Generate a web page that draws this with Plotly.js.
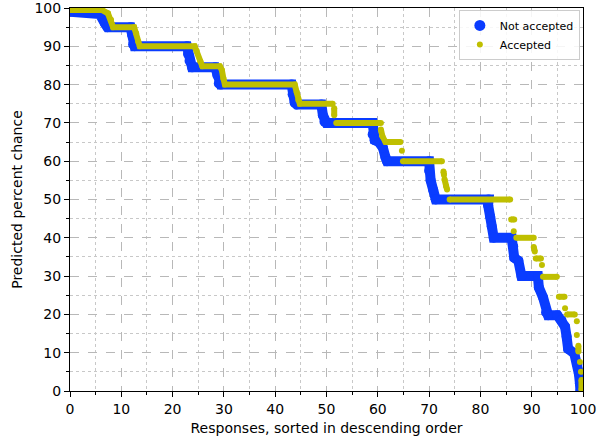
<!DOCTYPE html>
<html>
<head>
<meta charset="utf-8">
<script src="https://cdn.plot.ly/plotly-3.0.1.min.js"></script>
<style>
html,body{margin:0;padding:0;background:#fff;}
#chart{width:599px;height:439px;}
</style>
</head>
<body>
<div id="chart"></div>
<script>
// Not accepted (blue): sorted predicted percent chance vs. response percentile
var notAcceptedX = [0,5.2,5.8,6.8,7.3,11.8,12.1,12.3,12.6,22.8,23,23.3,23.8,28.3,28.7,29,29.4,43.2,43.4,43.8,44.2,49,49.3,49.6,50,59,59,59.4,60.2,61,61.5,61.8,70,70,70.3,70.8,71.3,81.6,81.5,81.9,82.2,82.6,86.1,86.4,86.6,87.4,88,91.2,91.4,92.2,92.8,93.2,95,95.8,96.5,96.8,97.1,98.3,98.9,99.2,99.4,99.5];
var notAcceptedY = [99,99,98.4,96,95,95,93,90.5,90,90,88,86.2,84.5,84.5,82.5,80.3,80,80,77.5,75.3,74.8,74.8,72,70.3,70,70,67,65.5,65,63.5,61,60,60,57.5,55,52.5,50,50,48.5,45.5,43,40,40,37.7,34.8,34,30,30,27,24.5,20.5,19.8,19.8,18.5,16.8,14.2,11,9.8,7,4.5,2,0];

// Accepted (yellow): null separates gaps between runs of points
var acceptedX = [0,6.2,7.4,8,8.4,12.5,12.9,13.3,13.6,24.3,24.7,25.4,25.8,29.2,29.6,29.9,30.2,43.8,44.2,44.5,44.8,51.2,null,
  51.5,51.5,null, 51.9,60.6,null, 60.6,60.9,61.5,64.4,null, 64.7,null, 64.9,72.5,null,
  72.8,72.9,null, 73,73.3,73.5,null, 74,85.8,null, 86,86.6,null, 86.5,null, 87,90.4,null,
  90.4,90.6,null, 90.8,91.8,null, 92,null, 92.2,94.9,null, 95.3,96.4,null, 96.5,null,
  96.9,98.4,null, 98.8,null, 98.8,null, 99.1,99.1,null, 99.4,null, 99.6,null, 99.7,99.7];
var acceptedY = [99.5,99.5,98.6,96.9,95,95,93.4,91.2,90,90,88.8,86,84.8,84.8,83.8,81.6,80,80,78,76,75,75,null,
  73.8,72,null, 70,70,null, 68.3,66.5,65,65,null, 62.7,null, 60,60,null,
  57.3,56.4,null, 55.3,53.5,52.6,null, 50,50,null, 44.8,44.8,null, 41.7,null, 40,40,null,
  37.6,36.4,null, 34.6,34.6,null, 32.9,null, 29.8,29.8,null, 24.6,24.6,null, 21.6,null,
  20,20,null, 18.2,null, 14.6,null, 11.8,10.3,null, 7.6,null, 5,null, 2.9,0.3];

var blue = '#0a3cff';
var yellow = '#bfbf00';

var traces = [
  {x: notAcceptedX, y: notAcceptedY, type: 'scatter', mode: 'lines+markers',
   line: {color: blue, width: 10}, marker: {color: blue, size: 10},
   showlegend: false, hoverinfo: 'skip', connectgaps: false},
  {x: acceptedX, y: acceptedY, type: 'scatter', mode: 'lines+markers',
   line: {color: yellow, width: 6}, marker: {color: yellow, size: 6},
   showlegend: false, hoverinfo: 'skip', connectgaps: false},
  {x: [null], y: [null], type: 'scatter', mode: 'markers', name: 'Not accepted',
   marker: {color: blue, size: 11}},
  {x: [null], y: [null], type: 'scatter', mode: 'markers', name: 'Accepted',
   marker: {color: yellow, size: 6}}
];

var axisCommon = {
  range: [0, 100], tick0: 0, dtick: 10, ticks: 'outside', ticklen: 5, tickwidth: 1, tickcolor: '#000',
  showline: true, linecolor: '#000', linewidth: 1, mirror: true, zeroline: false,
  showgrid: true, gridcolor: '#b8b8b8', griddash: 'dash', gridwidth: 1,
  ticklabeloverflow: 'allow',
  tickfont: {family: 'DejaVu Sans', size: 14, color: '#000'},
  minor: {dtick: 5, tick0: 0, ticks: 'outside', ticklen: 3, tickwidth: 1, tickcolor: '#000',
          showgrid: true, gridcolor: '#c8c8c8', griddash: 'dot', gridwidth: 1}
};

var layout = {
  width: 599, height: 439,
  margin: {l: 70, r: 16, t: 8, b: 48},
  paper_bgcolor: '#fff', plot_bgcolor: '#fff',
  font: {family: 'DejaVu Sans', color: '#000'},
  xaxis: Object.assign({}, axisCommon, {
    title: {text: 'Responses, sorted in descending order', font: {family: 'DejaVu Sans', size: 14, color: '#000'}, standoff: 7}
  }),
  yaxis: Object.assign({}, axisCommon, {
    range: [0, 100.0001],
    title: {text: 'Predicted percent chance', font: {family: 'DejaVu Sans', size: 14, color: '#000'}, standoff: 8}
  }),
  legend: {
    x: 0.758, y: 0.995, xanchor: 'left', yanchor: 'top',
    bgcolor: 'rgba(255,255,255,0.85)', bordercolor: '#cccccc', borderwidth: 1,
    font: {family: 'DejaVu Sans', size: 11, color: '#000'},
    itemsizing: 'trace', tracegroupgap: 0
  },
  showlegend: true
};

Plotly.newPlot('chart', traces, layout, {displayModeBar: false, staticPlot: true});
</script>
</body>
</html>
